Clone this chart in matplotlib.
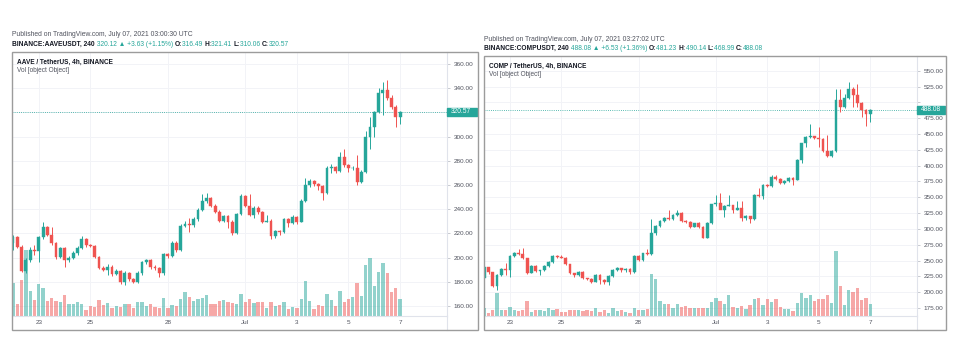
import matplotlib
matplotlib.use("Agg")
import matplotlib.pyplot as plt
from matplotlib.patches import Rectangle
import numpy as np
import pandas as pd

# 4h candles, 2021-06-22 00:00 .. 2021-07-07 00:00
times = pd.date_range("2021-06-22 00:00", "2021-07-07 00:00", freq="4h")
tick_days = ["2021-06-23", "2021-06-25", "2021-06-28", "2021-07-01",
             "2021-07-03", "2021-07-05", "2021-07-07"]
tick_labels = ["23", "25", "28", "Jul", "3", "5", "7"]

aave_open = [212.3, 216.7, 209.0, 188.9, 198.0, 206.3, 205.5, 216.7, 225.0, 218.7,
             211.8, 200.8, 207.6, 198.0, 200.0, 204.0, 208.2, 215.0, 210.4, 209.8,
             200.8, 191.7, 189.7, 192.5, 186.4, 188.9, 180.1, 187.0, 182.3, 180.1,
             187.0, 196.1, 197.6, 192.5, 191.7, 187.0, 202.7, 201.3, 212.3, 206.3,
             226.1, 227.5, 227.0, 231.6, 239.3, 247.0, 249.0, 242.9, 238.0, 230.5,
             234.4, 229.7, 220.0, 236.0, 250.9, 242.6, 235.2, 241.3, 237.4, 229.7,
             230.5, 217.5, 222.0, 221.0, 231.9, 228.3, 233.8, 229.7, 247.0, 260.0,
             263.3, 260.5, 259.4, 253.1, 274.3, 274.8, 271.6, 283.4, 276.5, 273.8,
             274.2, 262.8, 271.0, 299.4, 307.7, 320.6, 336.3, 338.5, 331.6, 324.7,
             316.49]
aave_high = [218.5, 218.0, 210.0, 200.0, 208.5, 210.0, 217.5, 229.7, 226.0, 225.5,
             213.0, 209.0, 209.0, 201.5, 205.5, 209.5, 218.0, 216.2, 211.5, 210.5,
             201.5, 193.0, 195.0, 194.0, 190.5, 190.0, 188.5, 188.0, 183.0, 188.5,
             197.5, 199.0, 198.5, 193.5, 192.5, 204.0, 204.0, 213.5, 213.5, 227.5,
             230.0, 233.0, 233.5, 241.0, 252.5, 253.0, 250.0, 244.0, 239.0, 235.5,
             235.5, 231.0, 237.0, 252.5, 251.5, 252.5, 242.5, 243.0, 238.5, 235.0,
             232.0, 223.0, 223.0, 233.0, 233.0, 235.0, 234.5, 248.5, 266.0, 265.0,
             264.0, 261.5, 260.0, 276.0, 277.0, 275.5, 287.0, 290.0, 277.5, 276.0,
             285.0, 272.0, 305.0, 316.0, 321.5, 340.0, 345.0, 347.0, 334.0, 326.0,
             321.41]
aave_low = [206.0, 208.0, 188.0, 187.0, 196.5, 202.0, 196.5, 215.5, 217.5, 210.5,
            199.0, 199.5, 192.5, 196.5, 198.8, 202.5, 207.0, 209.0, 208.5, 199.5,
            190.5, 188.5, 185.5, 185.0, 185.2, 178.5, 177.5, 181.0, 178.8, 179.0,
            186.0, 195.0, 190.5, 190.0, 184.0, 186.0, 200.0, 200.5, 205.0, 205.5,
            225.0, 221.5, 225.5, 230.5, 238.5, 245.5, 241.5, 236.5, 229.5, 229.5,
            224.5, 218.5, 219.5, 235.0, 241.5, 234.0, 233.0, 236.0, 228.5, 229.0,
            215.0, 216.5, 219.0, 220.0, 225.5, 227.5, 227.5, 229.0, 246.0, 258.5,
            259.0, 255.5, 247.5, 252.5, 269.5, 270.0, 270.5, 275.0, 270.5, 272.5,
            260.0, 261.5, 270.0, 290.0, 300.0, 319.5, 318.0, 330.5, 322.5, 307.5,
            310.06]
aave_close = [216.7, 209.0, 188.9, 198.0, 206.3, 205.5, 216.7, 225.0, 218.7, 211.8,
              200.8, 207.6, 198.0, 200.0, 204.0, 208.2, 215.0, 210.4, 209.8, 200.8,
              191.7, 189.7, 192.5, 186.4, 188.9, 180.1, 187.0, 182.3, 180.1, 187.0,
              196.1, 197.6, 192.5, 191.7, 187.0, 202.7, 201.3, 212.3, 206.3, 226.1,
              227.5, 227.0, 231.6, 239.3, 247.0, 249.0, 242.9, 238.0, 230.5, 234.4,
              229.7, 220.0, 236.0, 250.9, 242.6, 235.2, 241.3, 237.4, 229.7, 230.5,
              217.5, 222.0, 221.0, 231.9, 228.3, 233.8, 229.7, 247.0, 260.0, 263.3,
              260.5, 259.4, 253.1, 274.3, 274.8, 271.6, 283.4, 276.5, 273.8, 274.2,
              262.8, 271.0, 299.4, 307.7, 320.6, 336.3, 338.5, 331.6, 324.7, 316.5,
              320.57]
# volume in relative units (overlay scale)
aave_vol = [32.7, 12, 36, 66, 25, 16, 31.7, 28, 15, 18,
            15, 13.7, 21, 11.7, 12.3, 13.7, 11.7, 6, 10, 8.7,
            16.3, 11, 13, 7.7, 10.3, 8.7, 12.3, 12.3, 7.7, 14.3,
            14.3, 10.3, 11.7, 9.3, 7.7, 17.7, 8.3, 11, 10.3, 17,
            23.7, 19.3, 15, 16.7, 18.3, 21, 12.3, 12.3, 15, 15.7,
            14.3, 13.3, 12.3, 21.7, 13.7, 17.3, 13, 14.3, 14, 7.7,
            13.7, 10, 11, 14, 6.7, 8.7, 7.7, 16.7, 35.3, 15,
            7, 10.7, 10.3, 22, 15.7, 10.3, 25.3, 13.7, 16.7, 18.7,
            32.7, 20.3, 51, 57.7, 30, 43.7, 53.3, 43.3, 24.3, 27.7,
            16.7]

comp_open = [221.8, 239.2, 231.3, 209.7, 227.0, 236.0, 234.5, 257.2, 261.4, 260.0,
             253.5, 230.8, 241.9, 234.0, 234.6, 241.9, 247.7, 257.7, 256.1, 254.5,
             244.0, 229.8, 227.1, 232.4, 221.9, 220.5, 216.6, 227.1, 219.2, 216.6,
             225.5, 235.0, 237.6, 235.0, 237.0, 232.4, 257.2, 250.8, 261.4, 260.3,
             293.0, 305.0, 312.5, 317.7, 315.6, 322.0, 325.6, 313.0, 311.4, 303.5,
             308.8, 303.5, 286.1, 309.8, 338.8, 341.4, 329.8, 336.7, 337.7, 330.4,
             332.5, 316.7, 320.0, 315.6, 353.6, 352.5, 369.4, 367.8, 382.5, 378.8,
             372.0, 375.7, 380.9, 377.8, 408.9, 435.2, 445.7, 446.5, 443.1, 441.5,
             423.1, 415.2, 423.1, 503.7, 493.2, 507.4, 521.1, 511.6, 498.4, 487.9,
             481.23]
comp_high = [241.0, 240.0, 232.0, 229.0, 238.0, 246.0, 258.5, 263.0, 268.0, 270.5,
             254.5, 243.0, 243.0, 235.5, 243.0, 249.0, 259.0, 258.5, 259.5, 255.5,
             245.0, 231.0, 234.0, 233.5, 223.0, 222.0, 228.5, 228.0, 220.5, 226.5,
             236.5, 239.5, 239.0, 238.5, 238.0, 259.0, 258.5, 262.5, 268.0, 316.0,
             306.5, 313.5, 319.0, 330.0, 323.5, 330.0, 327.0, 314.0, 312.5, 310.0,
             310.5, 304.5, 311.5, 340.0, 353.5, 357.5, 338.0, 353.5, 338.5, 343.5,
             344.0, 321.5, 321.0, 355.0, 365.0, 371.0, 370.5, 384.5, 385.5, 380.0,
             377.0, 382.0, 382.0, 410.5, 436.5, 447.0, 465.0, 447.0, 460.5, 443.0,
             449.0, 425.0, 521.0, 521.0, 513.0, 532.5, 524.0, 528.5, 500.0, 489.0,
             490.14]
comp_low = [218.0, 229.0, 208.0, 204.0, 225.5, 226.5, 224.5, 255.5, 259.0, 252.0,
            229.5, 229.8, 232.5, 226.5, 233.5, 240.5, 246.5, 254.5, 253.5, 242.5,
            228.5, 224.5, 226.0, 220.5, 219.0, 215.0, 215.5, 213.5, 212.5, 212.0,
            224.5, 233.5, 232.5, 231.5, 228.5, 230.0, 249.0, 249.5, 259.0, 259.0,
            290.5, 303.0, 311.0, 314.5, 313.5, 320.5, 311.5, 309.5, 302.0, 302.5,
            302.0, 285.0, 285.0, 308.5, 336.5, 331.0, 319.5, 335.5, 325.5, 329.5,
            313.0, 314.5, 310.0, 314.0, 350.0, 347.0, 366.0, 366.0, 377.0, 370.5,
            371.0, 374.5, 369.0, 377.0, 404.0, 430.0, 443.0, 441.5, 430.0, 421.5,
            413.5, 413.5, 422.0, 485.0, 491.0, 505.0, 492.0, 493.0, 477.0, 462.5,
            468.99]
comp_close = [239.2, 231.3, 209.7, 227.0, 236.0, 234.5, 257.2, 261.4, 260.0, 253.5,
              230.8, 241.9, 234.0, 234.6, 241.9, 247.7, 257.7, 256.1, 254.5, 244.0,
              229.8, 227.1, 232.4, 221.9, 220.5, 216.6, 227.1, 219.2, 216.6, 225.5,
              235.0, 237.6, 235.0, 237.0, 232.4, 257.2, 250.8, 261.4, 260.3, 293.0,
              305.0, 312.5, 317.7, 315.6, 322.0, 325.6, 313.0, 311.4, 303.5, 308.8,
              303.5, 286.1, 309.8, 338.8, 341.4, 329.8, 336.7, 337.7, 330.4, 332.5,
              316.7, 320.0, 315.6, 353.6, 352.5, 369.4, 367.8, 382.5, 378.8, 372.0,
              375.7, 380.9, 377.8, 408.9, 435.2, 445.7, 446.5, 443.1, 441.5, 423.1,
              415.2, 423.1, 503.7, 493.2, 507.4, 521.1, 511.6, 498.4, 487.9, 481.23,
              488.08]
comp_vol = [7.7, 3.3, 6, 22.7, 6, 6, 9.3, 6, 5.3, 6,
            15, 4.3, 6, 6, 5.3, 7.7, 6, 6.7, 4.3, 3.7,
            5.7, 5.7, 5.7, 4.7, 5.7, 5.3, 7.7, 4.3, 5.7, 3.3,
            7.7, 4.7, 6, 3.7, 3.3, 8.3, 6, 6, 7, 42,
            37, 15, 11.7, 12, 8.3, 11.7, 8.7, 10, 7.7, 7.7,
            7.7, 7.7, 7.7, 14.3, 18.3, 15, 11.7, 21, 9.3, 7.7,
            10.3, 7, 11, 17, 18.3, 11, 16.7, 14.3, 16.7, 8.7,
            6.7, 6.7, 5, 13.3, 22.7, 17.7, 21, 15, 17, 17,
            21, 13.3, 65, 30.3, 11, 26, 24.3, 27.7, 16, 18.3,
            11.7]

aave_ticks = [160, 180, 200, 220, 240, 260, 280, 300, 320, 340, 360]
comp_ticks = [175, 200, 225, 250, 275, 300, 325, 350, 375, 400, 425, 450, 475, 500, 525, 550]

aave_title = "AAVE / TetherUS, 4h, BINANCE"
comp_title = "COMP / TetherUS, 4h, BINANCE"
aave_pub = "Published on TradingView.com, July 07, 2021 03:00:30 UTC"
comp_pub = "Published on TradingView.com, July 07, 2021 03:27:02 UTC"
aave_info = [("BINANCE:AAVEUSDT, 240", "d"), (" 320.12 \u25b2 +3.63 (+1.15%) ", "t"),
             ("O:", "d"), ("316.49 ", "t"), ("H:", "d"), ("321.41 ", "t"),
             ("L:", "d"), ("310.06 ", "t"), ("C:", "d"), ("320.57", "t")]
comp_info = [("BINANCE:COMPUSDT, 240", "d"), (" 488.08 \u25b2 +6.53 (+1.36%) ", "t"),
             ("O:", "d"), ("481.23 ", "t"), ("H:", "d"), ("490.14 ", "t"),
             ("L:", "d"), ("468.99 ", "t"), ("C:", "d"), ("488.08", "t")]

UP = "#26a69a"
DOWN = "#ef5350"
DARK = "#131722"
GREY = "#50535e"
FAM = ["Liberation Sans", "DejaVu Sans"]
W, H = 957, 357

plt.rcParams["font.family"] = FAM
fig = plt.figure(figsize=(W / 100, H / 100), dpi=100)
fig.patch.set_facecolor("white")


def fx(x):
    return x / W


def fy(y):
    return 1 - y / H


def rich_line(x, y, parts, size=4.8):
    r = fig.canvas.get_renderer()
    for s, kind in parts:
        t = fig.text(fx(x), fy(y), s, fontsize=size, va="center", ha="left",
                     color=DARK if kind == "d" else UP,
                     fontweight="bold" if kind == "d" else "normal")
        x = t.get_window_extent(renderer=r).x1


def panel(box, plot_box, o, h, l, c, vol, ylim, xlim, yticks, title, pub, info, head_y):
    x0, y0, x1, y1 = box
    px0, py0, px1, py1 = plot_box
    fig.add_artist(Rectangle((fx(x0), fy(y1)), (x1 - x0) / W, (y1 - y0) / H,
                             transform=fig.transFigure, fill=False, ec="#9c9c9c", lw=1.0))
    ax = fig.add_axes([fx(px0), fy(py1), (px1 - px0) / W, (py1 - py0) / H])
    o, h, l, c, vol = map(np.asarray, (o, h, l, c, vol))
    idx = np.arange(len(c))
    up = c >= o
    cols = np.where(up, UP, DOWN)

    # volume overlay, height as fraction of the pane
    ax.bar(idx, vol / (py1 - py0), width=0.78, bottom=0, color=cols, alpha=0.5,
           transform=ax.get_xaxis_transform(), zorder=1, lw=0)
    ax.vlines(idx, l, h, colors=cols, lw=0.7, zorder=3)
    ax.bar(idx, np.abs(c - o), bottom=np.minimum(o, c), width=0.66, color=cols,
           edgecolor=cols, lw=0.3, zorder=4)

    ax.set_xlim(*xlim)
    ax.set_ylim(*ylim)
    pos = [times.get_loc(pd.Timestamp(d)) for d in tick_days]
    ax.set_xticks(pos)
    ax.set_xticklabels(tick_labels)

    last = c[-1]
    span = ylim[1] - ylim[0]
    bh = 8 * span / (py1 - py0)
    ax.set_yticks(yticks)
    # the last-price tag covers a tick label sitting right under it
    ax.set_yticklabels(["" if abs(v - last) < bh else f"{v:.2f}" for v in yticks])
    ax.yaxis.tick_right()
    ax.tick_params(axis="y", length=2.5, width=0.5, color="#b2b5be", pad=2.5,
                   labelsize=4.6, labelcolor=GREY)
    ax.tick_params(axis="x", length=0, pad=3.2, labelsize=4.6, labelcolor=GREY)
    ax.grid(color="#f2f3f7", lw=0.7)
    ax.set_axisbelow(True)
    for s in ("top", "left"):
        ax.spines[s].set_visible(False)
    for s in ("right", "bottom"):
        ax.spines[s].set_color("#e0e3eb")
        ax.spines[s].set_linewidth(0.8)
    ax.plot([1, 1], [0, -(y1 - py1) / (py1 - py0)], transform=ax.transAxes,
            color="#e0e3eb", lw=0.8, clip_on=False)

    # last price line and tag
    ax.axhline(last, color=UP, lw=0.6, ls=(0, (1, 1.6)), zorder=2)
    ax.add_patch(Rectangle((1.0, last - bh / 2), (x1 - px1 - 1) / (px1 - px0), bh,
                           transform=ax.get_yaxis_transform(), color=UP, clip_on=False, zorder=5))
    ax.text(1.0 + 4 / (px1 - px0), last, f"{last:.2f}", transform=ax.get_yaxis_transform(),
            ha="left", va="center", color="white", fontsize=4.8, zorder=6)

    ax.text(5 / (px1 - px0), 1 - 10 / (py1 - py0), title, transform=ax.transAxes,
            fontsize=4.7, fontweight="bold", color=DARK, va="center", ha="left")
    ax.text(5 / (px1 - px0), 1 - 19 / (py1 - py0), "Vol [object Object]", transform=ax.transAxes,
            fontsize=4.7, color=GREY, va="center", ha="left")

    fig.text(fx(x0), fy(head_y), pub, fontsize=4.85, color=GREY, va="center", ha="left")
    rich_line(x0, head_y + 9, info)


panel((12, 52, 478, 330), (12, 52, 447, 316), aave_open, aave_high, aave_low, aave_close,
      aave_vol, (151.7, 369.9), (-0.23, 100.9), aave_ticks, aave_title, aave_pub, aave_info, 35)
panel((484, 56, 946, 330), (484, 56, 917, 316), comp_open, comp_high, comp_low, comp_close,
      comp_vol, (162.4, 573.2), (-0.05, 100.9), comp_ticks, comp_title, comp_pub, comp_info, 39.5)

fig.savefig("out.png", dpi=100, facecolor="white")
